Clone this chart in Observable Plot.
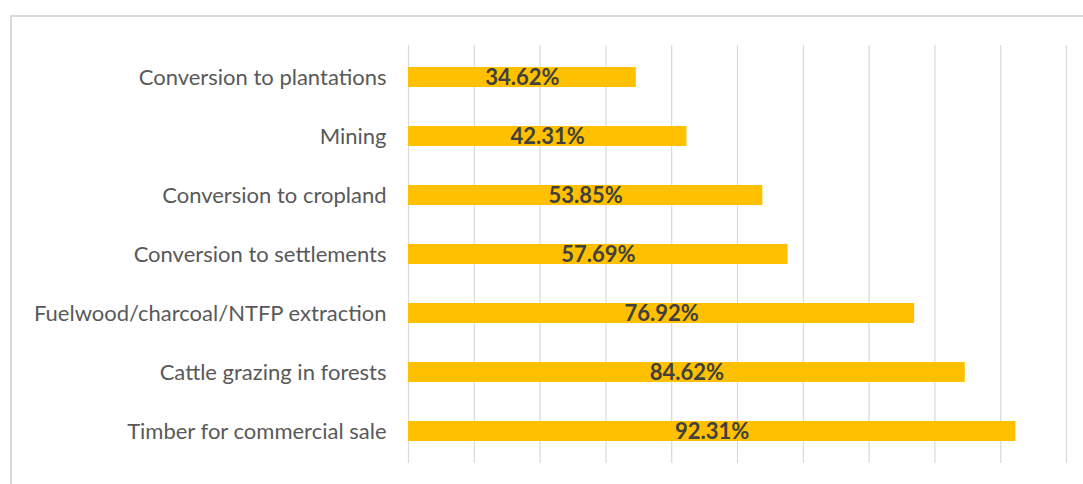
<!DOCTYPE html>
<html>
<head>
<meta charset="utf-8">
<script src="https://cdn.jsdelivr.net/npm/d3@7"></script>
<script src="https://cdn.jsdelivr.net/npm/@observablehq/plot@0.6"></script>
<style>
  html, body { margin: 0; padding: 0; background: #fff; overflow: hidden; }
  #frame { position: absolute; left: 10px; top: 15px; border-top: 2px solid #d9d9d9; border-left: 2px solid #d9d9d9; width: 1080px; height: 480px; }
</style>
</head>
<body>
<div id="frame"></div>
<script>
const categories = [
  "Conversion to plantations",
  "Mining",
  "Conversion to cropland",
  "Conversion to settlements",
  "Fuelwood/charcoal/NTFP extraction",
  "Cattle grazing in forests",
  "Timber for commercial sale"
];
const values = [34.62, 42.31, 53.85, 57.69, 76.92, 84.62, 92.31];
const gridTicks = [0, 10, 20, 30, 40, 50, 60, 70, 80, 90, 100];

const data = categories.map((c, i) => ({ category: c, value: values[i] }));

const chart = Plot.plot({
  width: 1071,
  height: 467,
  marginLeft: 396,
  marginRight: 17,
  marginTop: 28,
  marginBottom: 21,
  style: { fontFamily: "Lato, 'Open Sans', sans-serif", background: "transparent" },
  x: { domain: [0, 100], axis: null },
  y: { domain: categories, paddingInner: 0.665, paddingOuter: 0.3325, label: null },
  marks: [
    Plot.ruleX(gridTicks, { stroke: "#d9d9d9", strokeWidth: 1.2 }),
    Plot.barX(data, { y: "category", x: "value", fill: "#FFC000" }),
    Plot.text(data, {
      y: "category",
      x: d => d.value / 2,
      text: d => d.value.toFixed(2) + "%",
      fill: "#404040",
      fontSize: 22,
      fontWeight: "bold"
    }),
    Plot.axisY({ tickSize: 0, tickPadding: 22, fontSize: 22, color: "#595959", label: null })
  ]
});
chart.style.position = "absolute";
chart.style.left = "12px";
chart.style.top = "17px";
document.body.appendChild(chart);
</script>
</body>
</html>
